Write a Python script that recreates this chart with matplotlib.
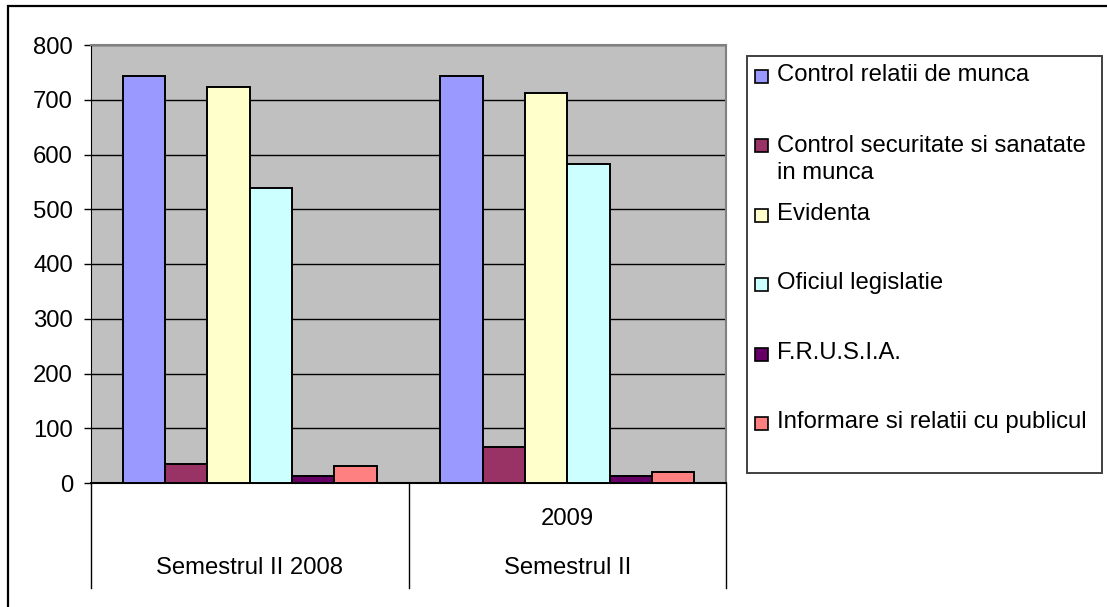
"""Grouped bar chart: activitati pe semestre (Excel style)."""

import matplotlib

matplotlib.use("Agg")
import matplotlib.pyplot as plt
import numpy as np
from matplotlib.patches import Rectangle

series_names = [
    "Control relatii de munca",
    "Control securitate si sanatate\nin munca",
    "Evidenta",
    "Oficiul legislatie",
    "F.R.U.S.I.A.",
    "Informare si relatii cu publicul",
]
series_colors = ["#9999FF", "#993366", "#FFFFCC", "#CCFFFF", "#660066", "#FF8080"]
top_labels = ["", "2009"]
bottom_labels = ["Semestrul II 2008", "Semestrul II"]
values_2008 = [743, 34, 723, 538, 13, 31]
values_2009 = [743, 65, 713, 582, 13, 20]
y_ticks = [0, 100, 200, 300, 400, 500, 600, 700, 800]

W, H = 1107, 607
FONT = 17.2

plt.rcParams["font.family"] = ["Liberation Sans", "DejaVu Sans"]


def fx(px):
    return px / W


def fy(py):
    return 1 - py / H


fig = plt.figure(figsize=(W / 100, H / 100), dpi=100)
fig.patch.set_facecolor("white")

# outer chart frame (right/bottom edges fall outside the picture)
fig.patches.append(
    Rectangle((fx(8), fy(625)), fx(1125) - fx(8), fy(6) - fy(625),
              transform=fig.transFigure, fill=False, edgecolor="black", linewidth=1.6)
)

ax = fig.add_axes([fx(91), fy(483), fx(726) - fx(91), fy(45) - fy(483)])
ax.set_facecolor("#C0C0C0")

table = np.array([values_2008, values_2009])
n_series = len(series_names)
x = np.arange(len(bottom_labels))
width = 0.8 / n_series
for i, (name, color) in enumerate(zip(series_names, series_colors)):
    ax.bar(x + (i - (n_series - 1) / 2) * width, table[:, i], width,
           color=color, edgecolor="black", linewidth=1.4, zorder=3)

ax.set_xlim(-0.5, len(bottom_labels) - 0.5)
ax.set_ylim(0, 800)
ax.set_yticks(y_ticks)
ax.tick_params(axis="y", labelsize=FONT, length=5, width=1, pad=8, direction="out")
ax.set_xticks([])
ax.yaxis.grid(True, color="black", linewidth=1)
ax.set_axisbelow(True)

for side in ["top", "right"]:
    ax.spines[side].set_color("#808080")
    ax.spines[side].set_linewidth(1.5)
ax.spines["left"].set_color("black")
ax.spines["bottom"].set_color("black")
ax.spines["bottom"].set_linewidth(1.5)

# category separators and labels under the axis
trans = ax.get_xaxis_transform()
for b in np.arange(-0.5, len(bottom_labels), 1.0):
    ax.plot([b, b], [0, -0.24], transform=trans, color="black", linewidth=1, clip_on=False)
for i, (top, bottom) in enumerate(zip(top_labels, bottom_labels)):
    ax.annotate(top, xy=(i, 0), xycoords=trans, xytext=(0, -26), textcoords="offset points",
                ha="center", va="center", fontsize=FONT)
    ax.annotate(bottom, xy=(i, 0), xycoords=trans, xytext=(0, -61), textcoords="offset points",
                ha="center", va="center", fontsize=FONT)

# legend drawn by hand to match the Excel layout
fig.patches.append(
    Rectangle((fx(747), fy(473)), fx(1102) - fx(747), fy(56) - fy(473),
              transform=fig.transFigure, facecolor="white", edgecolor="#404040", linewidth=1.4)
)
entry_y = 75
for name, color in zip(series_names, series_colors):
    fig.patches.append(
        Rectangle((fx(755), fy(entry_y + 8)), fx(13), fx(13) * W / H,
                  transform=fig.transFigure, facecolor=color, edgecolor="black", linewidth=1.2)
    )
    lines = name.count("\n")
    fig.text(fx(777), fy(entry_y + lines * 15), name, fontsize=FONT,
             ha="left", va="center", linespacing=1.25)
    entry_y += 69.4

fig.savefig("out.png", dpi=100)
